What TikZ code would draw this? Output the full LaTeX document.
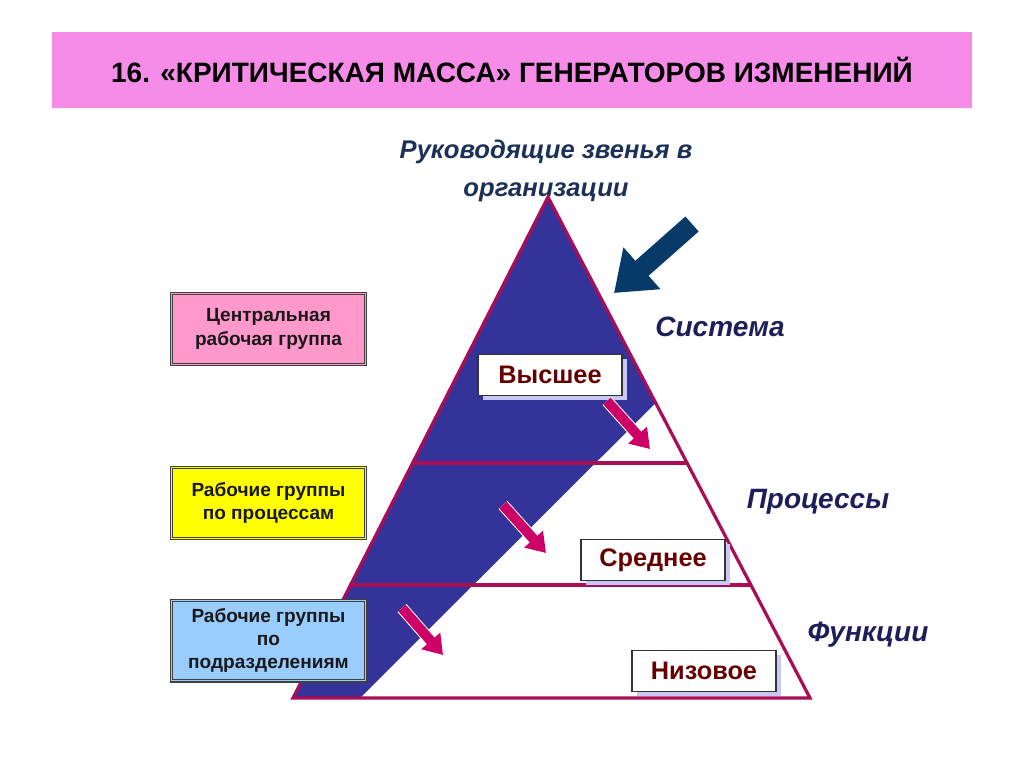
\documentclass[tikz,border=0pt]{standalone}
\usepackage{fontspec}
\setmainfont{Liberation Sans}
\usetikzlibrary{arrows.meta,shadows,calc}
\definecolor{titlepink}{RGB}{246,139,232}
\definecolor{crimson}{RGB}{170,12,85}
\definecolor{bandblue}{RGB}{51,51,153}
\definecolor{navyarrow}{RGB}{8,58,104}
\definecolor{pinkarrow}{RGB}{204,0,102}
\definecolor{labelred}{RGB}{102,0,0}
\definecolor{navytext}{RGB}{30,30,90}
\definecolor{toptext}{RGB}{28,48,88}
\definecolor{boxpink}{RGB}{255,153,204}
\definecolor{boxyellow}{RGB}{255,255,0}
\definecolor{boxblue}{RGB}{153,204,255}
\definecolor{lavender}{RGB}{200,200,245}
\begin{document}
\begin{tikzpicture}[x=0.75pt,y=-0.75pt,
  groupbox/.style={draw=black!75, line width=1pt,
    minimum width=147pt, minimum height=55pt, align=center,
    font=\fontsize{14.3}{17.5}\selectfont\bfseries, text=black!90, inner sep=2pt},
  innerframe/.style={draw=black!75, line width=0.6pt},
  levelbox/.style={draw=black!80, fill=white, line width=0.8pt,
    minimum width=108pt, minimum height=30.5pt, text=labelred,
    font=\fontsize{19}{21}\selectfont\bfseries,
    drop shadow={shadow xshift=3.5pt, shadow yshift=-3.5pt, fill=lavender, opacity=1}},
  sidelabel/.style={text=navytext, font=\fontsize{21}{24}\selectfont\bfseries\itshape},
  levelline/.style={draw=crimson, line width=3pt},
  pinkarr/.style={draw=pinkarrow, line width=7.5pt, -{Triangle[width=18pt,length=14pt]},
    preaction={draw=white, line width=9pt, -{Triangle[width=21pt,length=16pt]}}},
]
\useasboundingbox (0,0) rectangle (1024,768);
\fill[white] (0,0) rectangle (1024,768);

% title
\node[fill=titlepink, minimum width=690pt, minimum height=57pt,
  font=\fontsize{21}{24}\selectfont\bfseries] (title) at (512,70)
  {16. «КРИТИЧЕСКАЯ МАССА» ГЕНЕРАТОРОВ ИЗМЕНЕНИЙ};

% top label
\node[text=toptext, align=center, font=\fontsize{19.2}{28.5}\selectfont\bfseries\itshape]
  (top) at (546,171) {Руководящие звенья в\\организации};

% pyramid
\coordinate (apex) at (548,197);
\coordinate (bl) at (293,698);
\coordinate (br) at (810,698);
\coordinate (bandR) at ($(apex)!0.411!(br)$);
\coordinate (bandB) at (360,698);
\fill[bandblue] (apex) -- (bandR) -- (bandB) -- (bl) -- cycle;
\draw[levelline] ($(apex)!0.531!(bl)$) coordinate (l1a) -- ($(apex)!0.531!(br)$) coordinate (l1b);
\draw[levelline] ($(apex)!0.774!(bl)$) coordinate (l2a) -- ($(apex)!0.774!(br)$) coordinate (l2b);
\draw[crimson, line width=2.4pt, line join=miter] (apex) -- (br) -- (bl) -- cycle;

% navy arrow
\coordinate (nvT) at (692,224);
\coordinate (nvH) at (614,293);
\draw[navyarrow, line width=15pt, -{Triangle[width=40pt,length=28pt]}] (nvT) -- (nvH);

% level boxes
\node[levelbox] (high) at (550,375) {Высшее};
\node[levelbox] (mid) at (653,560) {Среднее};
\node[levelbox] (low) at (704,671) {Низовое};

% pink arrows
\coordinate (p1a) at (607,401); \coordinate (p1b) at (650,449);
\coordinate (p2a) at (503,505); \coordinate (p2b) at (546,553);
\coordinate (p3a) at (402,608); \coordinate (p3b) at (443,655);
\draw[pinkarr] (p1a) -- (p1b);
\draw[pinkarr] (p2a) -- (p2b);
\draw[pinkarr] (p3a) -- (p3b);

% side labels
\node[sidelabel] (sys) at (720,327) {Система};
\node[sidelabel] (proc) at (818,502) {Процессы};
\node[sidelabel] (func) at (868,635) {Функции};

% left group boxes
\node[groupbox, fill=boxpink] (g1) at (268.5,329) {Центральная\\рабочая группа};
\node[groupbox, fill=boxyellow] (g2) at (268.5,503) {Рабочие группы\\по процессам};
\node[groupbox, fill=boxblue, minimum height=62pt] (g3) at (268.5,640.5) {Рабочие группы\\по\\подразделениям};
\foreach \g in {g1,g2,g3}
  \draw[innerframe] ([shift={(2.2pt,-2.2pt)}]\g.north west) rectangle ([shift={(-2.2pt,2.2pt)}]\g.south east);
\end{tikzpicture}
\end{document}
